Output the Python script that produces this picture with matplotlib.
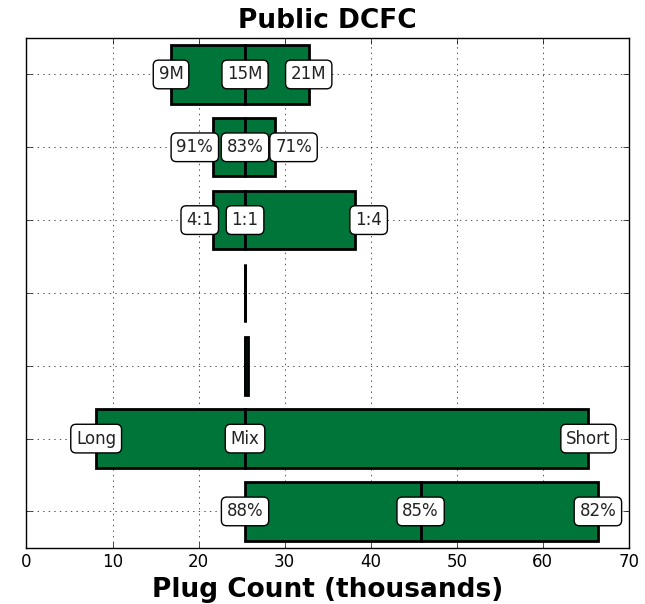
import matplotlib.pyplot as plt

# rows listed top to bottom
low_vals = [16.8, 21.7, 21.7, 25.4, 25.4, 8.1, 25.4]
mid_vals = [25.4, 25.4, 25.4, 25.4, 25.4, 25.4, 45.8]
high_vals = [32.8, 28.9, 38.2, 25.4, 25.75, 65.3, 66.4]
low_labels = ["9M", "91%", "4:1", "", "", "Long", "88%"]
mid_labels = ["15M", "83%", "1:1", "", "", "Mix", "85%"]
high_labels = ["21M", "71%", "1:4", "", "", "Short", "82%"]

# narrow rows get their end labels pushed outside the bar
low_ha = ["center", "right", "right", "center", "center", "center", "center"]
high_ha = ["center", "left", "left", "center", "center", "center", "center"]

green = "#00753a"

plt.style.use("classic")
plt.rcParams["figure.facecolor"] = "white"
plt.rcParams["savefig.facecolor"] = "white"

fig = plt.figure(figsize=(6.45, 6.04), dpi=100)
ax = fig.add_axes([0.041, 0.093, 0.934, 0.844])

n = len(low_vals)
ys = [n - 1 - i for i in range(n)]

for y, lo, mid, hi in zip(ys, low_vals, mid_vals, high_vals):
    # left half: low -> mid, right half: mid -> high
    ax.barh(y, mid - lo, left=lo, height=0.8, align="center",
            color=green, edgecolor="black", linewidth=2)
    ax.barh(y, hi - mid, left=mid, height=0.8, align="center",
            color=green, edgecolor="black", linewidth=2)

box = dict(boxstyle="round,pad=0.32", fc="white", ec="black", lw=1)
for i, y in enumerate(ys):
    items = ((low_vals[i], low_labels[i], low_ha[i]),
             (mid_vals[i], mid_labels[i], "center"),
             (high_vals[i], high_labels[i], high_ha[i]))
    for x, s, ha in items:
        if s:
            ax.text(x, y, s, ha=ha, va="center", fontsize=12,
                    color="#222222", bbox=box, zorder=5)

ax.set_xlim(0, 70)
ax.set_ylim(-0.5, n - 0.5)
ax.set_yticks(ys)
ax.set_yticklabels([])
ax.set_xticks(range(0, 71, 10))
ax.tick_params(labelsize=12)
ax.grid(True, linestyle=":", color="black", linewidth=0.6, alpha=0.8)
ax.set_axisbelow(True)

ax.set_title("Public DCFC", fontsize=19, fontweight="bold", pad=7)
ax.set_xlabel("Plug Count (thousands)", fontsize=19, fontweight="bold",
              labelpad=4)

plt.savefig("out.png", dpi=100)
